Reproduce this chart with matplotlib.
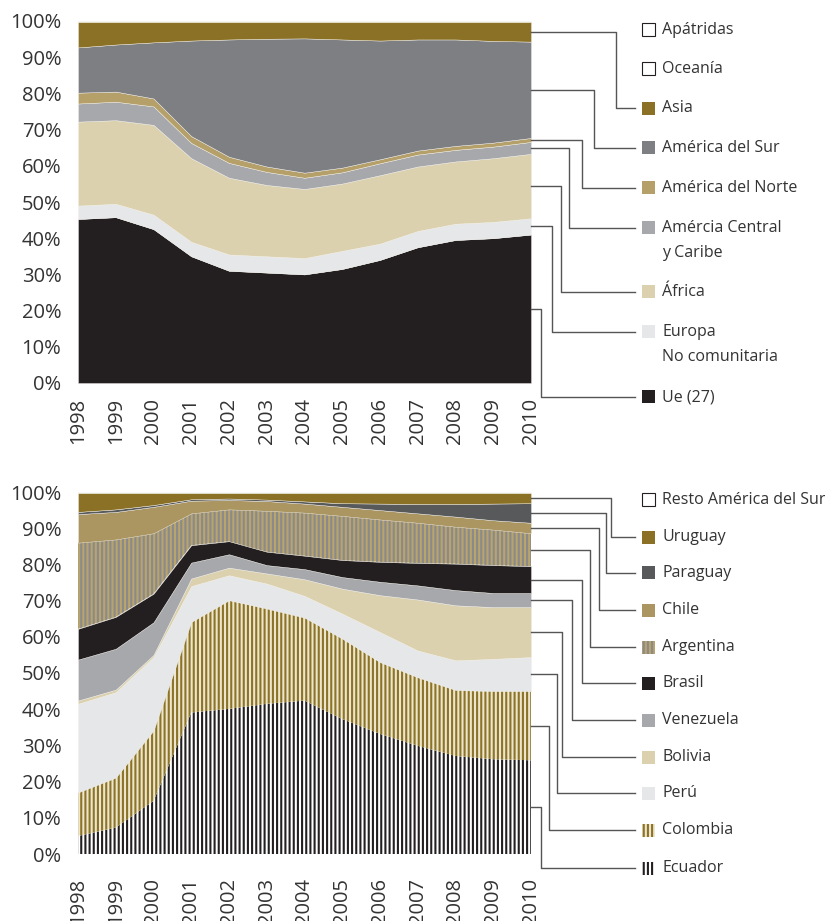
import matplotlib
matplotlib.use("Agg")
import matplotlib.pyplot as plt
from matplotlib.patches import Rectangle
from matplotlib.lines import Line2D
import numpy as np

plt.rcParams['font.family'] = ['Open Sans', 'DejaVu Sans']
plt.rcParams['hatch.linewidth'] = 1.5

W, H = 825, 921

years = [1998, 1999, 2000, 2001, 2002, 2003, 2004, 2005, 2006, 2007, 2008, 2009, 2010]

# --- top chart: origin of foreign population (%), stacked bottom -> top
ue = [45.3, 45.8, 42.5, 35.0, 31.0, 30.5, 30.0, 31.5, 34.0, 37.5, 39.5, 40.0, 41.0]
europa = [3.7, 3.7, 4.0, 4.0, 4.5, 4.5, 4.5, 5.0, 4.5, 4.5, 4.5, 4.5, 4.5]
africa = [23.2, 23.1, 24.8, 23.1, 21.2, 19.7, 19.1, 18.6, 18.9, 17.8, 17.2, 17.6, 17.8]
am_central = [5.0, 5.1, 5.1, 4.2, 4.1, 3.6, 3.1, 3.1, 3.3, 3.3, 3.2, 3.2, 3.3]
am_norte = [3.0, 2.8, 2.2, 1.9, 1.7, 1.5, 1.4, 1.3, 1.1, 1.1, 1.1, 1.1, 1.1]
am_sur = [12.5, 13.0, 15.5, 26.4, 32.4, 35.3, 37.1, 35.4, 32.8, 30.7, 29.4, 28.1, 26.6]
asia = [7.0, 6.2, 5.6, 5.1, 4.8, 4.6, 4.5, 4.8, 5.1, 4.8, 4.8, 5.2, 5.4]
oceania = [0.2, 0.2, 0.2, 0.2, 0.2, 0.2, 0.2, 0.2, 0.2, 0.2, 0.2, 0.2, 0.2]
apatridas = [0.1, 0.1, 0.1, 0.1, 0.1, 0.1, 0.1, 0.1, 0.1, 0.1, 0.1, 0.1, 0.1]

# --- bottom chart: South American countries (%), stacked bottom -> top
ecuador = [5.0, 7.3, 14.7, 39.1, 40.1, 41.5, 42.4, 37.3, 33.2, 29.9, 27.1, 26.2, 25.9]
colombia = [12.0, 13.8, 19.4, 25.0, 30.0, 26.3, 22.9, 22.2, 19.8, 18.9, 18.2, 18.8, 19.1]
peru = [24.5, 23.6, 20.3, 9.9, 6.9, 6.9, 6.0, 6.9, 8.3, 7.4, 8.2, 8.9, 9.4]
bolivia = [0.9, 0.7, 0.6, 2.1, 2.1, 2.8, 4.6, 6.9, 10.2, 14.1, 15.2, 14.3, 13.8]
venezuela = [11.3, 11.3, 9.0, 4.4, 3.7, 2.3, 2.8, 3.2, 3.7, 3.9, 4.2, 3.9, 3.9]
brasil = [8.5, 8.8, 7.9, 4.8, 3.6, 3.7, 3.7, 4.7, 5.5, 6.2, 7.3, 7.7, 7.4]
argentina = [23.8, 21.4, 16.7, 8.8, 8.8, 11.3, 11.9, 12.2, 11.7, 11.1, 10.2, 9.8, 9.1]
chile = [7.9, 7.6, 7.3, 3.5, 2.6, 2.7, 2.5, 2.5, 2.6, 2.6, 2.8, 2.6, 2.9]
paraguay = [0.6, 0.7, 0.5, 0.4, 0.4, 0.4, 0.6, 1.0, 1.8, 2.6, 3.5, 4.6, 5.4]
uruguay = [5.2, 4.5, 3.3, 1.7, 1.5, 1.8, 2.3, 2.8, 2.9, 3.0, 3.0, 2.9, 2.8]
resto = [0.3, 0.3, 0.3, 0.3, 0.3, 0.3, 0.3, 0.3, 0.3, 0.3, 0.3, 0.3, 0.3]

BLACK = '#231f20'
OLIVE = '#8b7125'
TAN = '#b5a06a'
BEIGE = '#dcd1af'
LGRAY = '#e6e7e8'
MGRAY = '#a7a8ab'
SGRAY = '#7e7f83'
DGRAY = '#58595b'
TXT = '#333333'
LINE = '#555555'

# (label lines, values, face, hatch, hatch colour, legend y px, connector x px)
top_series = [
    (['Ue (27)'], ue, BLACK, None, None, 397, 541),
    (['Europa', 'No comunitaria'], europa, LGRAY, None, None, 332, 552),
    (['África'], africa, BEIGE, None, None, 292, 561),
    (['Amércia Central', 'y Caribe'], am_central, MGRAY, None, None, 228, 569),
    (['América del Norte'], am_norte, TAN, None, None, 188, 582),
    (['América del Sur'], am_sur, SGRAY, None, None, 148, 594),
    (['Asia'], asia, OLIVE, None, None, 108, 616),
    (['Oceanía'], oceania, 'white', None, None, 69, None),
    (['Apátridas'], apatridas, 'white', None, None, 30, None),
]

bottom_series = [
    (['Ecuador'], ecuador, 'white', '||||', BLACK, 868, 541),
    (['Colombia'], colombia, '#eee6cc', '||||', '#8b7328', 830, 549),
    (['Perú'], peru, LGRAY, None, None, 793, 557),
    (['Bolivia'], bolivia, BEIGE, None, None, 757, 562),
    (['Venezuela'], venezuela, MGRAY, None, None, 720, 572),
    (['Brasil'], brasil, BLACK, None, None, 683, 582),
    (['Argentina'], argentina, '#b9a46c', '||||', '#8a8a8c', 647, 590),
    (['Chile'], chile, '#ab9661', None, None, 610, 599),
    (['Paraguay'], paraguay, DGRAY, None, None, 573, 606),
    (['Uruguay'], uruguay, OLIVE, None, None, 537, 611),
    (['Resto América del Sur'], resto, 'white', None, None, 500, None),
]

fig = plt.figure(figsize=(W / 100, H / 100), dpi=100)


def px_axes(left, top, right, bottom):
    return fig.add_axes([left / W, 1 - bottom / H, (right - left) / W, (bottom - top) / H])


def draw_panel(ax, series, xpad):
    base = np.zeros(len(years))
    mids = []
    for lines, vals, face, hatch, hcol, ly, cx in series:
        top = base + np.array(vals)
        if hatch:
            ax.fill_between(years, base, top, facecolor=face, edgecolor=hcol,
                            linewidth=0, hatch=hatch)
        else:
            ax.fill_between(years, base, top, facecolor=face, linewidth=0.3,
                            edgecolor='#f2f0ea')
        mids.append((base[-1] + top[-1]) / 2)
        base = top
    ax.set_xlim(1998, 2010)
    ax.set_ylim(0, 100)
    ax.set_xticks(years)
    ax.set_xticklabels([str(y) for y in years], rotation=90, fontsize=14.5, color=TXT)
    ax.set_yticks(range(0, 101, 10))
    ax.set_yticklabels([f'{v}%' for v in range(0, 101, 10)], fontsize=14.5, color=TXT)
    ax.tick_params(axis='x', length=0, pad=xpad)
    ax.tick_params(axis='y', length=0, pad=12)
    for s in ax.spines.values():
        s.set_visible(False)
    return mids


def draw_legend(ax, series, mids):
    inv = fig.transFigure.inverted()
    for (lines, vals, face, hatch, hcol, ly, cx), mid in zip(series, mids):
        # legend square
        ec = hcol if hatch else (BLACK if face == 'white' else face)
        rect = Rectangle((642 / W, 1 - (ly + 6.5) / H), 13 / W, 13 / H,
                         transform=fig.transFigure, facecolor=face, edgecolor=ec,
                         linewidth=0 if (hatch or face != 'white') else 0.8,
                         hatch=hatch)
        fig.patches.append(rect)
        for i, line in enumerate(lines):
            fig.text(662 / W, 1 - (ly + 25 * i) / H, line, fontsize=11.5,
                     color=TXT, va='center', ha='left')
        if cx is None:
            continue
        # elbow connector from the band at 2010 to the legend entry
        x0, y0 = inv.transform(ax.transData.transform((2010, mid)))
        xs = [x0, cx / W, cx / W, 635 / W]
        ys = [y0, y0, 1 - ly / H, 1 - ly / H]
        fig.lines.append(Line2D(xs, ys, transform=fig.transFigure, color=LINE,
                                linewidth=1.0))


ax1 = px_axes(78, 21, 531, 383)
m1 = draw_panel(ax1, top_series, 11)
ax2 = px_axes(78, 492, 531, 854)
m2 = draw_panel(ax2, bottom_series, 17)

draw_legend(ax1, top_series, m1)
draw_legend(ax2, bottom_series, m2)

fig.savefig('out.png', dpi=100)
